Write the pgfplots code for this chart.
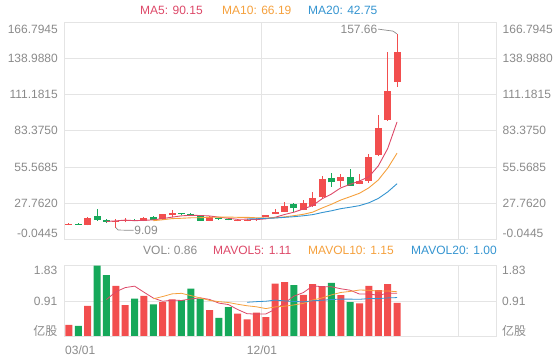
\documentclass[border=0pt]{standalone}
\usepackage{pgfplots}
\pgfplotsset{compat=1.18}
\usepackage{pgfplotstable}
\usepackage{fontspec}
\setmainfont{Liberation Sans}
\newfontfamily\cjk{Noto Sans CJK SC}
\definecolor{upred}{RGB}{242,78,78}
\definecolor{dngreen}{RGB}{22,168,90}
\definecolor{maA}{RGB}{221,72,104}
\definecolor{maB}{RGB}{245,160,60}
\definecolor{maC}{RGB}{52,148,208}
\definecolor{gridc}{RGB}{228,228,228}
\definecolor{labc}{RGB}{138,138,138}
\definecolor{annc}{RGB}{140,140,140}

% up (red) candles: x open high low close volume
\pgfplotstableread{
x o h l c v
0 11.2 12.5 11.0 12.0 0.29
2 11.1 17.0 10.8 16.7 0.78
5 13.8 16.0 9.09 14.3 1.30
6 14.0 16.2 13.0 14.6 0.80
8 14.2 17.1 14.0 16.7 1.04
10 15.5 19.6 15.2 19.3 0.88
11 19.0 22.6 17.5 20.1 0.95
15 14.2 17.8 14.0 17.5 0.67
18 14.3 15.6 13.9 15.0 0.58
19 14.2 15.4 13.9 14.8 0.43
20 14.9 16.3 14.5 15.8 0.61
21 17.4 19.0 17.0 18.5 0.49
22 19.5 23.6 19.2 21.0 1.36
23 21.2 28.8 20.8 25.5 1.40
25 22.8 30.0 22.4 28.0 1.07
26 25.6 36.2 25.2 32.0 1.35
27 32.4 48.8 32.0 46.5 1.28
29 44.8 50.0 40.5 47.6 1.06
31 42.9 50.2 42.3 45.0 0.85
32 45.0 65.5 43.5 63.0 1.30
33 64.8 95.4 64.0 85.2 1.19
34 91.6 144.0 91.0 113.8 1.35
35 121.0 157.66 117.1 143.7 0.86
}\uptable

% down (green) candles
\pgfplotstableread{
x o h l c v
1 12.2 12.4 11.3 11.6 0.26
3 17.8 23.4 14.2 15.2 1.83
4 15.0 15.8 12.8 13.4 1.58
7 15.0 15.5 13.8 14.4 0.97
9 17.2 17.8 14.8 15.0 0.82
12 20.0 20.6 18.8 19.4 0.93
13 19.4 19.9 18.2 18.8 1.23
14 18.0 18.4 14.0 14.2 0.97
16 16.2 16.6 15.0 15.5 0.47
17 15.6 15.9 14.6 15.0 0.75
24 27.0 28.0 21.0 23.8 1.32
28 47.0 51.0 40.5 43.8 1.38
30 47.6 53.8 41.0 41.3 0.88
}\dntable

\pgfplotsset{
  candle/.style n args={2}{draw=none, mark=none, forget plot,
    error bars/.cd, y dir=plus, y explicit, error mark=none,
    error bar style={draw=#1, line width=#2}},
}

\begin{document}
\begin{tikzpicture}[font=\fontsize{12bp}{14bp}\selectfont]
\useasboundingbox (0,0) rectangle (560bp,360bp);

% ---------------- price panel ----------------
\begin{axis}[
  at={(64.3bp,120.5bp)}, anchor=south west, scale only axis,
  width=432.1bp, height=217.5bp,
  xmin=-0.5, xmax=45.6, ymin=-0.0445, ymax=166.7945,
  xtick={20.5,41.5}, xticklabels={},
  ytick={-0.0445,27.762,55.5685,83.375,111.1815,138.988,166.7945}, yticklabels={},
  major tick length=0pt,
  xmajorgrids, ymajorgrids,
  grid style={draw=gridc, line width=0.8bp},
  axis line style={draw=gridc, line width=0.8bp},
]
% wicks
\addplot[candle={upred}{1bp}]
  table[x=x, y=l, y error expr=\thisrow{h}-\thisrow{l}] {\uptable};
\addplot[candle={dngreen}{1bp}]
  table[x=x, y=l, y error expr=\thisrow{h}-\thisrow{l}] {\dntable};
% bodies
\addplot[candle={upred}{7bp}]
  table[x=x, y=o, y error expr=\thisrow{c}-\thisrow{o}] {\uptable};
\addplot[candle={dngreen}{7bp}]
  table[x=x, y=c, y error expr=\thisrow{o}-\thisrow{c}] {\dntable};
% moving averages
\addplot[maA, line width=0.9bp, mark=none] coordinates {
(4,13.78)(5,14.24)(6,14.84)(7,14.38)(8,14.68)(9,15.0)(10,16.0)(11,17.1)(12,18.1)(13,18.52)(14,18.36)(15,18.0)(16,17.08)(17,16.2)(18,15.44)(19,15.56)(20,15.22)(21,15.82)(22,17.02)(23,19.12)(24,20.92)(25,23.36)(26,26.06)(27,31.16)(28,34.82)(29,39.58)(30,42.24)(31,44.84)(32,48.14)(33,56.42)(34,69.66)(35,90.14)};
\addplot[maB, line width=0.9bp, mark=none] coordinates {
(9,14.39)(10,15.12)(11,15.97)(12,16.24)(13,16.6)(14,16.68)(15,17.0)(16,17.09)(17,17.15)(18,16.98)(19,16.96)(20,16.61)(21,16.45)(22,16.61)(23,17.28)(24,18.24)(25,19.29)(26,20.94)(27,24.09)(28,26.97)(29,30.25)(30,32.8)(31,35.45)(32,39.65)(33,45.62)(34,54.62)(35,66.19)};
\addplot[maC, line width=0.9bp, mark=none] coordinates {
(19,15.68)(20,15.87)(21,16.21)(22,16.43)(23,16.94)(24,17.46)(25,18.15)(26,19.02)(27,20.62)(28,21.98)(29,23.61)(30,24.71)(31,25.95)(32,28.13)(33,31.45)(34,36.43)(35,42.74)};
\coordinate (hi) at (axis cs:35,157.66);
\coordinate (hiA) at (axis cs:34.57,159.8);
\coordinate (hiB) at (axis cs:32.97,161.35);
\coordinate (lo) at (axis cs:5,9.09);
\coordinate (loA) at (axis cs:5.25,7.2);
\coordinate (loB) at (axis cs:6.9,7.0);
\end{axis}

% ---------------- volume panel ----------------
\begin{axis}[
  at={(64.3bp,24bp)}, anchor=south west, scale only axis,
  width=432.1bp, height=70.4bp,
  xmin=-0.5, xmax=45.6, ymin=0, ymax=1.83,
  xtick={20.5,41.5}, xticklabels={},
  ytick={0.91,1.83}, yticklabels={},
  major tick length=0pt,
  xmajorgrids, ymajorgrids,
  grid style={draw=gridc, line width=0.8bp},
  axis line style={draw=gridc, line width=0.8bp},
]
\addplot[ybar, bar width=7bp, bar shift=0pt, fill=upred, draw=none, forget plot]
  table[x=x, y=v] {\uptable};
\addplot[ybar, bar width=7bp, bar shift=0pt, fill=dngreen, draw=none, forget plot]
  table[x=x, y=v] {\dntable};
\addplot[maA, line width=0.8bp, mark=none] coordinates {
(4,0.948)(5,1.15)(6,1.258)(7,1.296)(8,1.138)(9,0.986)(10,0.902)(11,0.932)(12,0.924)(13,0.962)(14,0.992)(15,0.95)(16,0.854)(17,0.818)(18,0.688)(19,0.58)(20,0.568)(21,0.572)(22,0.694)(23,0.858)(24,1.036)(25,1.128)(26,1.30)(27,1.284)(28,1.28)(29,1.228)(30,1.19)(31,1.09)(32,1.094)(33,1.056)(34,1.114)(35,1.11)};
\addplot[maB, line width=0.8bp, mark=none] coordinates {
(9,0.967)(10,1.026)(11,1.095)(12,1.11)(13,1.05)(14,0.989)(15,0.926)(16,0.893)(17,0.871)(18,0.825)(19,0.786)(20,0.759)(21,0.713)(22,0.756)(23,0.773)(24,0.808)(25,0.848)(26,0.936)(27,0.989)(28,1.069)(29,1.132)(30,1.159)(31,1.195)(32,1.189)(33,1.168)(34,1.171)(35,1.15)};
\addplot[maC, line width=0.8bp, mark=none] coordinates {
(19,0.877)(20,0.893)(21,0.904)(22,0.933)(23,0.912)(24,0.899)(25,0.887)(26,0.915)(27,0.93)(28,0.947)(29,0.959)(30,0.959)(31,0.954)(32,0.973)(33,0.971)(34,0.990)(35,0.999)};
\end{axis}

% annotations (max / min)
\draw[annc, line width=0.7bp] (hi) -- (hiA) -- (hiB);
\node[anchor=east, inner sep=0pt, xshift=-0.5bp, text=labc] at (hiB) {157.66};
\draw[annc, line width=0.7bp] (lo) -- (loA) -- (loB);
\node[anchor=west, inner sep=0pt, xshift=0.5bp, text=labc] at (loB) {9.09};

% headers
\begin{scope}[every node/.style={inner sep=0pt, anchor=west}]
\node[text=maA] at (140bp,350bp) {MA5: 90.15};
\node[text=maB] at (222bp,350bp) {MA10: 66.19};
\node[text=maC] at (308bp,350bp) {MA20: 42.75};
\node[text=labc] at (143bp,110bp) {VOL: 0.86};
\node[text=maA] at (213bp,110bp) {MAVOL5: 1.11};
\node[text=maB] at (308bp,110bp) {MAVOL10: 1.15};
\node[text=maC] at (411bp,110bp) {MAVOL20: 1.00};
\end{scope}

% axis labels
\begin{scope}[every node/.style={inner sep=0pt, text=labc}]
\foreach \yy/\tt in {127/-0.0445, 156.75/27.7620, 193/55.5685, 229.25/83.3750, 265.5/111.1815, 301.75/138.9880, 330.5/166.7945} {
  \node[anchor=east] at (58bp,\yy bp) {\tt};
  \node[anchor=west] at (502.5bp,\yy bp) {\tt};
}
\foreach \yy/\tt in {90/1.83, 59/0.91} {
  \node[anchor=east] at (57.5bp,\yy bp) {\tt};
  \node[anchor=west] at (502bp,\yy bp) {\tt};
}
\node[anchor=east] at (57.5bp,29bp) {\cjk 亿股};
\node[anchor=west] at (502bp,29bp) {\cjk 亿股};
\node[anchor=west] at (65bp,10bp) {03/01};
\node[anchor=center] at (262bp,10bp) {12/01};
\end{scope}
\end{tikzpicture}
\end{document}
